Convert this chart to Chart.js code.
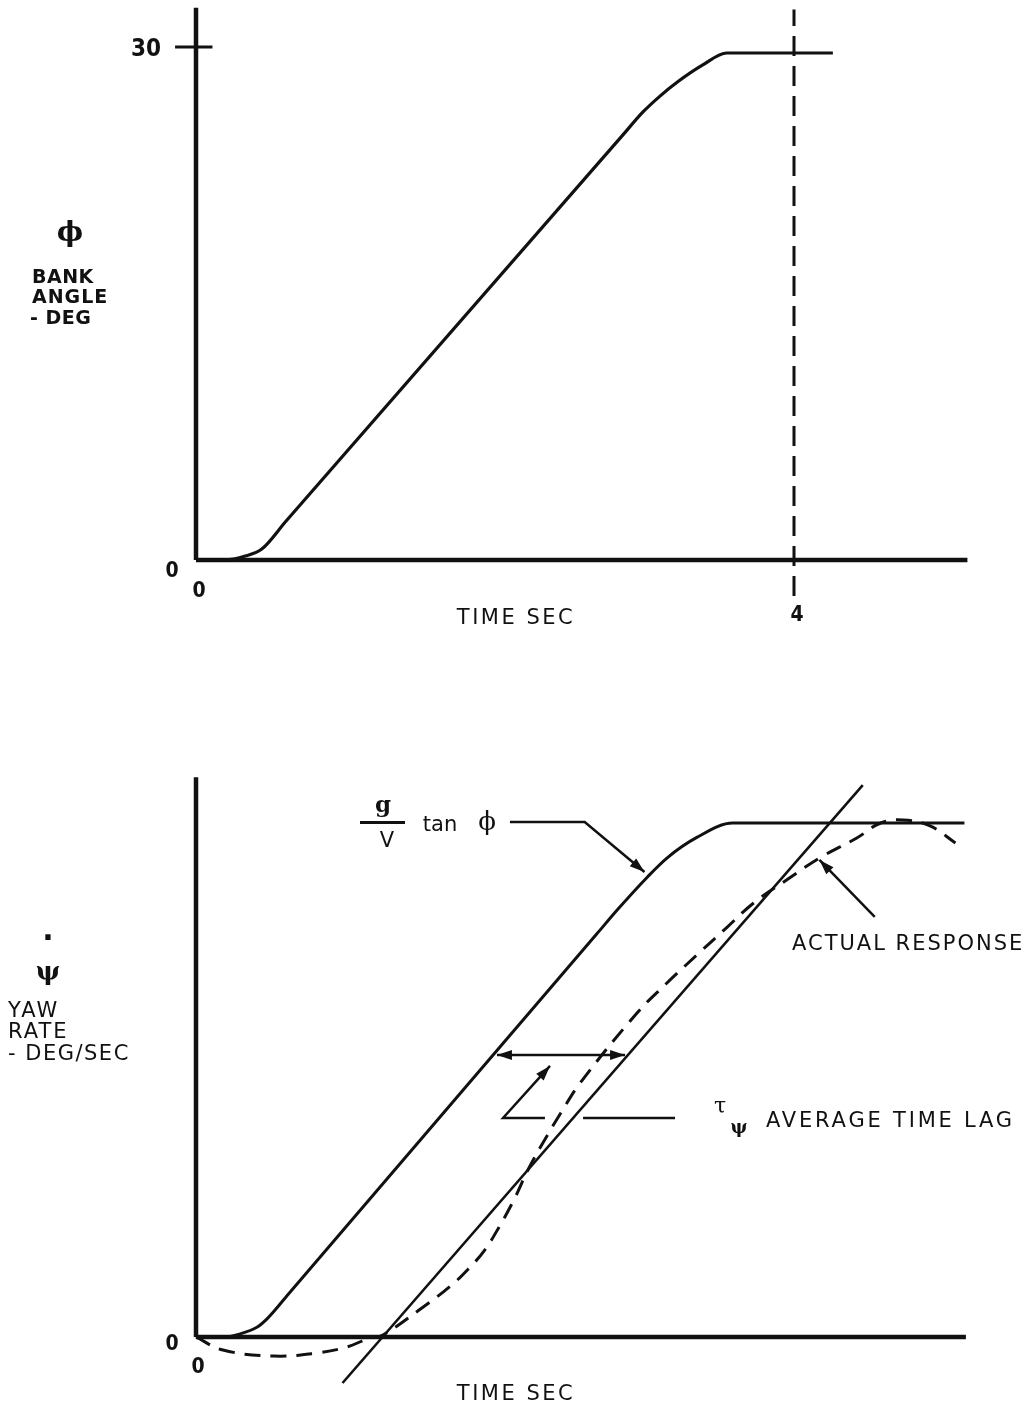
<!DOCTYPE html>
<html>
<head>
<meta charset="utf-8">
<script src="https://cdn.jsdelivr.net/npm/chart.js@4.4.1/dist/chart.umd.min.js"></script>
<style>
  html, body { margin: 0; padding: 0; background: #fff; }
  #wrap { position: relative; width: 1026px; height: 1417px; }
  canvas { position: absolute; left: 0; }
  #graficoBank { top: 0; }
  #graficoYaw { top: 680px; }
</style>
</head>
<body>
<div id="wrap">
  <canvas id="graficoBank" width="1026" height="680"></canvas>
  <canvas id="graficoYaw" width="1026" height="737"></canvas>
</div>
<script>
// --- dados ---
// grafico de cima: angulo de inclinacao (deg) x tempo (s)
const bankTime  = [0, 0.19, 0.33, 0.44, 0.60, 2.85, 2.99, 3.10, 3.22, 3.39, 3.55, 3.70, 4.26];
const bankAngle = [0, 0, 0.23, 0.64, 2.25, 24.8, 26.2, 27.1, 27.95, 28.95, 29.65, 29.65, 29.65];
const bankTicks = [0, 30];
const timeTicks = [0, 4];
const markerTime = 4;

// grafico de baixo: taxa de guinada (unidades relativas) x tempo (s)
const yawTime      = [0, 0.18, 0.29, 0.41, 0.48, 0.62, 2.68, 2.82, 3.02, 3.15, 3.35, 3.59, 3.75, 5.14];
const yawCommanded = [0, 0, 0.17, 0.58, 1.1, 2.52, 23.47, 24.9, 26.8, 27.9, 29.1, 29.94, 29.94, 29.94];
const lagLineTime  = [0.98, 4.46];
const lagLineRate  = [-2.68, 32.15];
const responseTime = [0, 0.18, 0.52, 0.81, 1.01, 1.16, 1.25, 1.52, 1.70, 1.82, 1.93, 2.03, 2.13, 2.22,
                      2.32, 2.44, 2.57, 2.95, 3.15, 3.35, 3.55, 3.73, 3.95, 4.17, 4.42, 4.58, 4.73, 4.91, 5.08];
const responseRate = [0, -0.76, -1.11, -0.93, -0.58, -0.06, 0.12, 1.75, 2.95, 3.95, 5.05, 6.45, 8.05, 9.73,
                      11.30, 13.05, 14.80, 18.87, 20.62, 22.25, 23.85, 25.28, 26.62, 27.90, 29.07, 29.94, 30.12, 29.77, 28.78];

const pts = (xs, ys) => xs.map((x, i) => ({ x: x, y: ys[i] }));

function baseOptions(xMin, xMax, yMin, yMax) {
    return {
        responsive: false,
        animation: false,
        devicePixelRatio: 1,
        layout: { padding: 0 },
        plugins: { legend: { display: false }, tooltip: { enabled: false } },
        scales: {
            x: { type: "linear", min: xMin, max: xMax, display: false },
            y: { type: "linear", min: yMin, max: yMax, display: false }
        },
        elements: { point: { radius: 0 }, line: { borderColor: "#000", fill: false } }
    };
}

function lineSet(data, width, extra) {
    return Object.assign({ data: data, borderColor: "#111", borderWidth: width, pointRadius: 0,
        fill: false, clip: false, borderCapStyle: "butt", tension: 0 }, extra || {});
}

function txt(ctx, s, x, y, font, align, spacing) {
    ctx.save();
    ctx.font = font;
    ctx.fillStyle = "#111";
    ctx.textAlign = align || "center";
    ctx.textBaseline = "middle";
    ctx.letterSpacing = (spacing || 0) + "px";
    ctx.fillText(s, x, y);
    ctx.restore();
}

function head(ctx, x1, y1, x2, y2) {
    const a = Math.atan2(y2 - y1, x2 - x1), L = 15, W = 5;
    ctx.beginPath();
    ctx.moveTo(x2, y2);
    ctx.lineTo(x2 - L * Math.cos(a) + W * Math.sin(a), y2 - L * Math.sin(a) - W * Math.cos(a));
    ctx.lineTo(x2 - L * Math.cos(a) - W * Math.sin(a), y2 - L * Math.sin(a) + W * Math.cos(a));
    ctx.closePath();
    ctx.fill();
}

// linha de chamada em unidades dos dados, com setas opcionais
function leader(chart, path, startHead, endHead) {
    const ctx = chart.ctx, sx = chart.scales.x, sy = chart.scales.y;
    const p = path.map(q => [sx.getPixelForValue(q[0]), sy.getPixelForValue(q[1])]);
    ctx.save();
    ctx.strokeStyle = "#111";
    ctx.fillStyle = "#111";
    ctx.lineWidth = 2.5;
    ctx.beginPath();
    p.forEach((q, i) => i ? ctx.lineTo(q[0], q[1]) : ctx.moveTo(q[0], q[1]));
    ctx.stroke();
    const n = p.length - 1;
    if (endHead) head(ctx, p[n - 1][0], p[n - 1][1], p[n][0], p[n][1]);
    if (startHead) head(ctx, p[1][0], p[1][1], p[0][0], p[0][1]);
    ctx.restore();
}

const sansB = "bold 19px 'DejaVu Sans'";
const sans = "21px 'DejaVu Sans'";
const num = "bold 24px 'DejaVu Sans Condensed', 'DejaVu Sans'";
const numS = "bold 21px 'DejaVu Sans Condensed', 'DejaVu Sans'";

// ---------- grafico de cima ----------
const bankLabels = {
    id: "bankLabels",
    afterDatasetsDraw(chart) {
        const ctx = chart.ctx, sx = chart.scales.x, sy = chart.scales.y;
        txt(ctx, String(bankTicks[1]), 161, sy.getPixelForValue(bankTicks[1]) + 3, num, "right");
        txt(ctx, String(bankTicks[0]), 172, sy.getPixelForValue(bankTicks[0]) + 12, numS);
        txt(ctx, String(timeTicks[0]), sx.getPixelForValue(timeTicks[0]) + 3, 592, numS);
        txt(ctx, String(timeTicks[1]), sx.getPixelForValue(timeTicks[1]) + 3, 616, numS);
        txt(ctx, "TIME SEC", 516, 619, sans, "center", 2.5);
        txt(ctx, "ϕ", 70, 234, "bold 28px 'DejaVu Serif'");
        txt(ctx, "BANK", 32, 278, sansB, "left", 0.5);
        txt(ctx, "ANGLE", 32, 298, sansB, "left", 1);
        txt(ctx, "- DEG", 30, 319, sansB, "left", 0.5);
    }
};

new Chart(document.getElementById("graficoBank").getContext("2d"), {
    type: "line",
    data: {
        datasets: [
            lineSet(pts(bankTime, bankAngle), 3.2, { cubicInterpolationMode: "monotone" }),
            lineSet([{ x: 0, y: 0 }, { x: 0, y: 32.3 }], 4.5),
            lineSet([{ x: 0, y: 0 }, { x: 5.16, y: 0 }], 4.5),
            lineSet([{ x: -0.14, y: bankTicks[1] }, { x: 0.11, y: bankTicks[1] }], 3),
            lineSet([{ x: markerTime, y: -2.1 }, { x: markerTime, y: 32.2 }], 3, { borderDash: [20, 10] })
        ]
    },
    options: baseOptions(-196 / 149.5, 830 / 149.5, -120 / 17.1, 560 / 17.1),
    plugins: [bankLabels]
});

// ---------- grafico de baixo ----------
const yawLabels = {
    id: "yawLabels",
    afterDatasetsDraw(chart) {
        const ctx = chart.ctx, sx = chart.scales.x, sy = chart.scales.y;
        txt(ctx, "0", 172, sy.getPixelForValue(0) + 8, numS);
        txt(ctx, "0", sx.getPixelForValue(0) + 2, 688, numS);
        txt(ctx, "TIME SEC", 516, 715, sans, "center", 2.5);
        txt(ctx, "·", 48, 260, "bold 30px 'DejaVu Sans'");
        txt(ctx, "ψ", 48, 293, "bold 26px 'DejaVu Serif'");
        txt(ctx, "YAW", 8, 332, sans, "left", 2);
        txt(ctx, "RATE", 8, 353, sans, "left", 2);
        txt(ctx, "- DEG/SEC", 8, 375, sans, "left", 1.5);

        // g/V tan phi
        txt(ctx, "g", 383, 126, "bold 23px 'DejaVu Serif'");
        ctx.fillStyle = "#111";
        ctx.fillRect(360, 141, 45, 3);
        txt(ctx, "V", 387, 162, "21px 'DejaVu Sans'");
        txt(ctx, "tan", 440, 146, "21px 'DejaVu Sans'");
        txt(ctx, "ϕ", 487, 143, "26px 'DejaVu Serif'");
        leader(chart, [[2.10, 30.0], [2.60, 30.0], [3.00, 27.09]], false, true);

        txt(ctx, "ACTUAL RESPONSE", 792, 265, sans, "left", 2);
        leader(chart, [[4.54, 24.47], [4.17, 27.79]], false, true);

        leader(chart, [[2.013, 16.43], [2.870, 16.43]], true, true);
        leader(chart, [[2.334, 12.76], [2.054, 12.76], [2.368, 15.79]], false, true);
        leader(chart, [[2.589, 12.76], [3.204, 12.76]], false, false);
        txt(ctx, "τ", 720, 427, "22px 'DejaVu Serif'");
        txt(ctx, "ψ", 739, 448, "bold 18px 'DejaVu Serif'");
        txt(ctx, "AVERAGE TIME LAG", 766, 442, sans, "left", 2.8);
    }
};

new Chart(document.getElementById("graficoYaw").getContext("2d"), {
    type: "line",
    data: {
        datasets: [
            lineSet(pts(yawTime, yawCommanded), 3, { cubicInterpolationMode: "monotone" }),
            lineSet(pts(lagLineTime, lagLineRate), 2.6),
            lineSet(pts(responseTime, responseRate), 3, { tension: 0.4, borderDash: [16, 10] }),
            lineSet([{ x: 0, y: 0 }, { x: 0, y: 32.6 }], 4.5),
            lineSet([{ x: 0, y: 0 }, { x: 5.15, y: 0 }], 4.5)
        ]
    },
    options: baseOptions(-196 / 149.5, 830 / 149.5, -80 / 17.167, 657 / 17.167),
    plugins: [yawLabels]
});
</script>
</body>
</html>
